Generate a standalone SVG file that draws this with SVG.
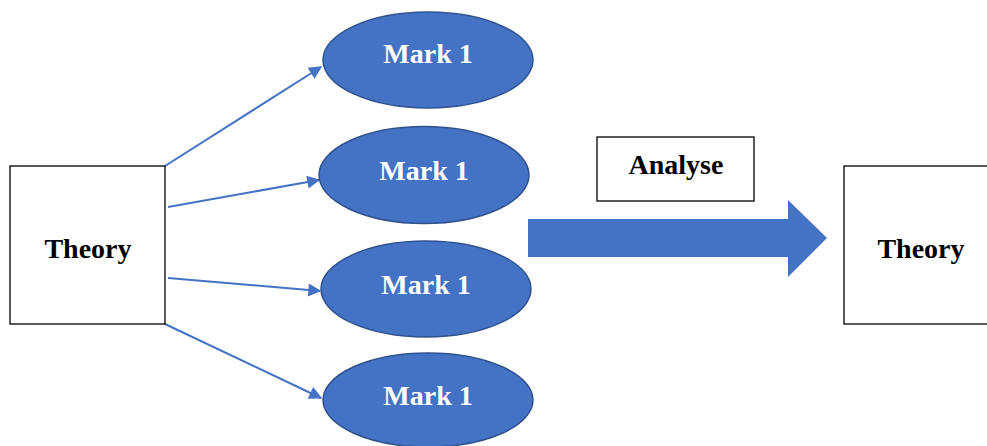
<svg xmlns="http://www.w3.org/2000/svg" width="987" height="446" viewBox="0 0 987 446">
<defs>
<style>
.box{fill:#fff;stroke:#000;stroke-width:1.3}
.ell{fill:#4472C4;stroke:#2F528F;stroke-width:1.5}
.lbl{font-family:"Liberation Serif","Times New Roman",serif;font-weight:bold;font-size:28px;text-anchor:middle}
.w{fill:#fff}
.k{fill:#000}
.con{stroke:#4472C4;stroke-width:2;fill:none;marker-end:url(#ah)}
</style>
<marker id="ah" viewBox="0 0 10 10" refX="9" refY="5" markerWidth="7" markerHeight="6.5" markerUnits="strokeWidth" orient="auto">
<path d="M0,0 L10,5 L0,10 z" fill="#4472C4"/>
</marker>
</defs>
<rect width="987" height="446" fill="#fff"/>
<g id="connectors">
<line class="con" x1="165" y1="166" x2="321" y2="67"/>
<line class="con" x1="168" y1="207" x2="319" y2="180"/>
<line class="con" x1="168" y1="278" x2="320" y2="291"/>
<line class="con" x1="165" y1="324" x2="321" y2="398"/>
<path id="big-arrow" d="M528,219 H788 V200 L827,238 L788,277 V257 H528 Z" fill="#4472C4"/>
</g>
<g id="theory-left">
<rect class="box" x="10" y="166" width="155" height="158"/>
<text class="lbl k" x="88" y="258">Theory</text>
</g>
<g id="mark1-a">
<ellipse class="ell" cx="428" cy="60" rx="105" ry="48"/>
<text class="lbl w" x="428" y="63">Mark 1</text>
</g>
<g id="mark1-b">
<ellipse class="ell" cx="424" cy="175" rx="105" ry="48.5"/>
<text class="lbl w" x="424" y="180">Mark 1</text>
</g>
<g id="mark1-c">
<ellipse class="ell" cx="426" cy="289" rx="105" ry="48"/>
<text class="lbl w" x="426" y="294">Mark 1</text>
</g>
<g id="mark1-d">
<ellipse class="ell" cx="428" cy="400" rx="105" ry="47"/>
<text class="lbl w" x="428" y="405">Mark 1</text>
</g>
<g id="analyse">
<rect class="box" x="597" y="137" width="157" height="64"/>
<text class="lbl k" x="676" y="174">Analyse</text>
</g>
<g id="theory-right">
<rect class="box" x="844" y="166" width="155" height="158"/>
<text class="lbl k" x="921" y="258">Theory</text>
</g>
</svg>
